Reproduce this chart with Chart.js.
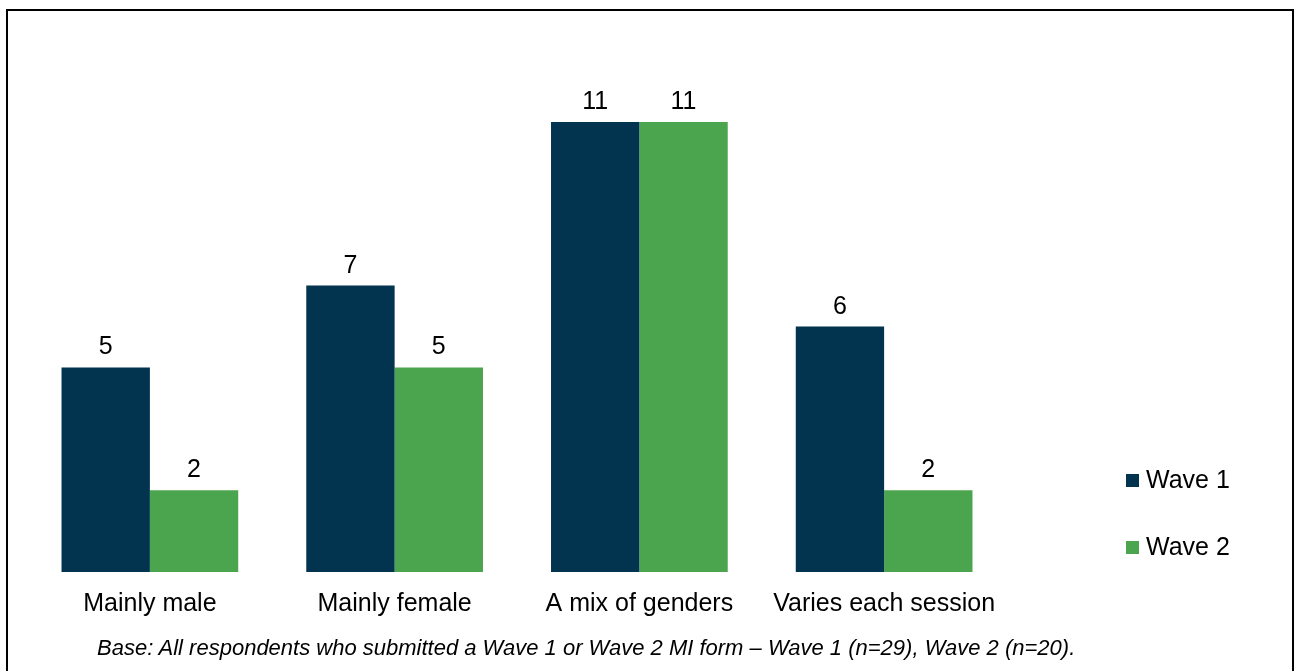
<!DOCTYPE html>
<html>
<head>
<meta charset="utf-8">
<script src="https://cdn.jsdelivr.net/npm/chart.js@4/dist/chart.umd.min.js"></script>
<style>
  body { margin: 0; background: #fff; overflow: hidden; }
  #frame {
    position: absolute; left: 6px; top: 9px; width: 1284px; height: 680px;
    border: 2px solid #000; box-sizing: content-box;
  }
  #wrap { position: absolute; left: 0; top: 0; width: 1295px; height: 671px; }
  #note {
    position: absolute; left: 97px; top: 635px;
    font: italic 22px "Liberation Sans", Arial, sans-serif; color: #000;
    white-space: nowrap;
  }
</style>
</head>
<body>
<div id="frame"></div>
<div id="wrap"><canvas id="myChart" width="1295" height="671"></canvas></div>
<div id="note">Base: All respondents who submitted a Wave 1 or Wave 2 MI form – Wave 1 (n=29), Wave 2 (n=20).</div>
<script>
const categories = ['Mainly male', 'Mainly female', 'A mix of genders', 'Varies each session'];
const wave1 = [5, 7, 11, 6];
const wave2 = [2, 5, 11, 2];
const seriesNames = ['Wave 1', 'Wave 2'];
const seriesColors = ['#02334F', '#4BA54F'];

const FONT = '"Liberation Sans", Arial, sans-serif';

// value labels, category labels and the legend on the right
const drawExtras = {
    id: 'drawExtras',
    afterDatasetsDraw(chart) {
        const c = chart.ctx;
        c.save();
        c.fillStyle = '#000';
        c.font = '25px ' + FONT;
        c.textAlign = 'center';
        c.textBaseline = 'alphabetic';
        chart.data.datasets.forEach(function(ds, i) {
            chart.getDatasetMeta(i).data.forEach(function(bar, j) {
                c.fillText(String(ds.data[j]), bar.x, bar.y - 13);
            });
        });
        const xs = chart.scales.x;
        categories.forEach(function(cat, j) {
            c.fillText(cat, xs.getPixelForValue(j), 611);
        });
        c.textAlign = 'left';
        chart.data.datasets.forEach(function(ds, i) {
            const y = 488 + i * 67;
            c.fillStyle = ds.backgroundColor;
            c.fillRect(1126, y - 14, 13, 13);
            c.fillStyle = '#000';
            c.fillText(ds.label, 1146, y);
        });
        c.restore();
    }
};

new Chart(document.getElementById('myChart'), {
    type: 'bar',
    data: {
        labels: categories,
        datasets: [
            { label: seriesNames[0], data: wave1, backgroundColor: seriesColors[0], barPercentage: 1, categoryPercentage: 0.722 },
            { label: seriesNames[1], data: wave2, backgroundColor: seriesColors[1], barPercentage: 1, categoryPercentage: 0.722 }
        ]
    },
    options: {
        responsive: false,
        animation: false,
        layout: { padding: { left: 27.5, right: 288.5, top: 81, bottom: 99 } },
        plugins: { legend: { display: false }, tooltip: { enabled: false } },
        scales: {
            x: { display: false },
            y: { display: false, min: 0, max: 12 }
        }
    },
    plugins: [drawExtras]
});
</script>
</body>
</html>
